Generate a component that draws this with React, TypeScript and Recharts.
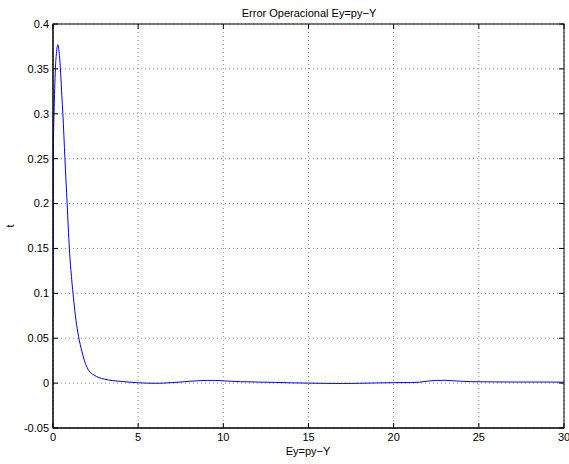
import React from "react";
import { LineChart, Line, XAxis, YAxis, CartesianGrid } from "recharts";

const timeValues = [
  0, 0.01, 0.02, 0.04, 0.06, 0.1, 0.14, 0.2, 0.25, 0.29, 0.33, 0.38, 0.45, 0.52, 0.58, 0.7, 0.83, 0.96,
  1.1, 1.2, 1.35, 1.5, 1.7, 1.9, 2.1, 2.4, 2.7, 3.0, 3.5, 4, 5, 6, 6.5, 7, 7.5, 8, 8.5, 9, 9.5, 10, 11,
  12, 13, 14, 15, 16, 17, 18, 19, 20, 21, 21.5, 22, 22.5, 23, 23.5, 24, 25, 26, 27, 28, 29, 30,
];
const errorValues = [
  0.074, 0.16, 0.25, 0.285, 0.3, 0.328, 0.35, 0.367, 0.375, 0.377, 0.373, 0.365, 0.345, 0.32, 0.3, 0.25,
  0.2, 0.15, 0.115, 0.095, 0.07, 0.052, 0.035, 0.022, 0.014, 0.009, 0.0062, 0.0045, 0.0028, 0.0019,
  0.0004, -0.0002, 0, 0.0006, 0.0012, 0.002, 0.0026, 0.003, 0.003, 0.0025, 0.0016, 0.0012, 0.0008,
  0.0003, 0, -0.0003, -0.0004, -0.0002, 0.0002, 0.0005, 0.0006, 0.001, 0.0022, 0.003, 0.0031, 0.0026,
  0.002, 0.0015, 0.0013, 0.0012, 0.0012, 0.0012, 0.001,
];
const xTicks = [0, 5, 10, 15, 20, 25, 30];
const yTicks = [-0.05, 0, 0.05, 0.1, 0.15, 0.2, 0.25, 0.3, 0.35, 0.4];

const data = timeValues.map((t, i) => ({ t, ey: errorValues[i] }));

const FONT = "'Liberation Sans', Arial, Helvetica, sans-serif";

const W = 569;
const H = 464;
const PLOT_LEFT = 53;
const PLOT_TOP = 24;
const PLOT_RIGHT = 564;
const PLOT_BOTTOM = 428;
const TICK_LEN = 5;

const XTick = (props: any) => {
  const { x, y, payload } = props;
  return (
    <g>
      <line x1={x} x2={x} y1={PLOT_BOTTOM} y2={PLOT_BOTTOM - TICK_LEN} stroke="#000" />
      <line x1={x} x2={x} y1={PLOT_TOP} y2={PLOT_TOP + TICK_LEN} stroke="#000" />
      <text x={x} y={y} dy="0.71em" textAnchor="middle" fontSize={11} fontFamily={FONT} fill="#000">
        {String(payload.value)}
      </text>
    </g>
  );
};

const YTick = (props: any) => {
  const { x, y, payload } = props;
  return (
    <g>
      <line x1={PLOT_LEFT} x2={PLOT_LEFT + TICK_LEN} y1={y} y2={y} stroke="#000" />
      <line x1={PLOT_RIGHT} x2={PLOT_RIGHT - TICK_LEN} y1={y} y2={y} stroke="#000" />
      <text x={x} y={y} dy="0.355em" textAnchor="end" fontSize={11} fontFamily={FONT} fill="#000">
        {String(payload.value)}
      </text>
    </g>
  );
};

export default function App() {
  return (
    <div style={{ position: "absolute", left: 0, top: 0, width: W, height: H, background: "#fff" }}>
      <LineChart
        width={W}
        height={H}
        data={data}
        margin={{ top: PLOT_TOP, right: W - PLOT_RIGHT, bottom: 0, left: 0 }}
      >
        <CartesianGrid stroke="#888" strokeDasharray="1 3" />
        <XAxis
          dataKey="t"
          type="number"
          domain={[0, 30]}
          ticks={xTicks}
          interval={0}
          height={H - PLOT_BOTTOM}
          tickLine={false}
          tickSize={0}
          tickMargin={5}
          stroke="#000"
          tick={XTick}
          allowDataOverflow
        />
        <YAxis
          type="number"
          domain={[-0.05, 0.4]}
          ticks={yTicks}
          interval={0}
          width={PLOT_LEFT}
          tickLine={false}
          tickSize={0}
          tickMargin={4}
          stroke="#000"
          tick={YTick}
          allowDataOverflow
        />
        <Line
          type="monotone"
          dataKey="ey"
          stroke="#0000ff"
          strokeWidth={1}
          dot={false}
          isAnimationActive={false}
        />
        <rect
          x={PLOT_LEFT}
          y={PLOT_TOP}
          width={PLOT_RIGHT - PLOT_LEFT}
          height={PLOT_BOTTOM - PLOT_TOP}
          fill="none"
          stroke="#000"
        />
        <text x={309} y={17} textAnchor="middle" fontSize={11} fontFamily={FONT} fill="#000">
          Error Operacional Ey=py−Y
        </text>
        <text x={308} y={455} textAnchor="middle" fontSize={11} fontFamily={FONT} fill="#000">
          Ey=py−Y
        </text>
        <text
          x={14}
          y={226}
          textAnchor="middle"
          fontSize={11}
          fontFamily={FONT}
          fill="#000"
          transform="rotate(-90 14 226)"
        >
          t
        </text>
      </LineChart>
    </div>
  );
}
